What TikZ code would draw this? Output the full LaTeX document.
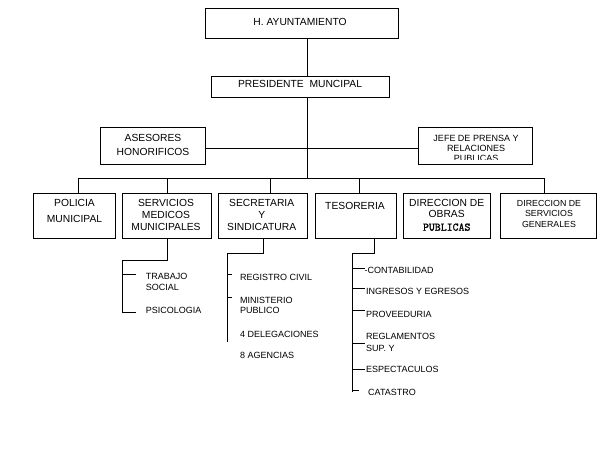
\documentclass[tikz,border=0pt]{standalone}
\usepackage{fontspec}
\setmainfont{Liberation Sans}
\newfontfamily\monof{Latin Modern Mono}[FakeBold=1.4]
\begin{document}
\begin{tikzpicture}[x=1pt,y=-1pt,
  box/.style={draw, line width=0.9pt, inner sep=0pt, rectangle},
  title/.style={inner sep=0pt, align=center, font=\fontsize{10.3}{11.7}\selectfont},
  item/.style={inner sep=0pt, anchor=west, align=left, font=\fontsize{9}{10.5}\selectfont},
  conn/.style={line width=0.9pt}]
\fill[white] (0,0) rectangle (609,454);
\useasboundingbox (0,0) rectangle (609,454);

% top boxes
\node[box, minimum width=193pt, minimum height=30pt] (H) at (301.5,23.3) {};
\node[title] (Ht) at (300,21.5) {H. AYUNTAMIENTO};
\node[box, minimum width=177.6pt, minimum height=21.3pt] (P) at (300.5,86.7) {};
\node[title] (Pt) at (300,84.3) {PRESIDENTE\ \ MUNCIPAL};
\node[box, minimum width=104.3pt, minimum height=37pt] (A) at (152.8,145.8) {};
\node[title, font=\fontsize{10.3}{14}\selectfont] (At) at (153,144.7) {ASESORES\\HONORIFICOS};
\node[box, minimum width=114pt, minimum height=37pt] (J) at (475,145.8) {};
\begin{scope}
  \clip (418,127) rectangle (532,159.3);
  \node[title, font=\fontsize{9}{10}\selectfont] (Jt) at (476,148.5) {JEFE DE PRENSA Y\\RELACIONES\\PUBLICAS};
\end{scope}

% row of departments
\node[box, minimum width=81.7pt, minimum height=45pt] (POL) at (74.2,215.8) {};
\node[title, font=\fontsize{10.3}{15.7}\selectfont] (POLt) at (74.5,211.2) {POLICIA\\MUNICIPAL};
\node[box, minimum width=88.3pt, minimum height=45pt] (SER) at (166.8,215.8) {};
\node[title] (SERt) at (166,215) {SERVICIOS\\MEDICOS\\MUNICIPALES};
\node[box, minimum width=89pt, minimum height=45pt] (SEC) at (262.8,215.8) {};
\node[title, font=\fontsize{10.3}{12}\selectfont] (SECt) at (261.7,215.3) {SECRETARIA\\Y\\SINDICATURA};
\node[box, minimum width=81pt, minimum height=45pt] (TES) at (356.2,215.8) {};
\node[title] (TESt) at (355,206) {TESORERIA};
\node[box, minimum width=86.7pt, minimum height=45pt] (OBR) at (446.7,215.8) {};
\node[title, font=\fontsize{10.3}{11}\selectfont] (OBRt) at (446.7,215) {DIRECCION DE\\OBRAS\\[2.3pt]{\monof\fontsize{11.5}{11}\selectfont PUBLICAS}};
\node[box, minimum width=96.7pt, minimum height=45pt] (DSG) at (548.3,215.8) {};
\node[title, font=\fontsize{8.8}{10.5}\selectfont] (DSGt) at (549,213.5) {DIRECCION DE\\SERVICIOS\\GENERALES};

% main connectors
\coordinate (mx) at (307.5,0);
\coordinate (ay) at (0,148.7);
\coordinate (bus) at (0,178.3);
\draw[conn] (H.south -| mx) -- (P.north -| mx);
\draw[conn] (P.south -| mx) -- (bus -| mx);
\draw[conn] (A.east |- ay) -- (J.west |- ay);
\coordinate (b1) at (78.3,178.3);
\coordinate (b2) at (167.3,178.3);
\coordinate (b3) at (270.7,178.3);
\coordinate (b4) at (359.3,178.3);
\coordinate (b5) at (544.5,178.3);
\draw[conn] (b1) -- (b5);
\draw[conn] (b1) -- (b1 |- POL.north);
\draw[conn] (b2) -- (b2 |- SER.north);
\draw[conn] (b3) -- (b3 |- SEC.north);
\draw[conn] (b4) -- (b4 |- TES.north);
\draw[conn] (b5) -- (b5 |- DSG.north);

% servicios medicos branch
\node[item] (TRA) at (145.7,281.8) {TRABAJO\\SOCIAL};
\node[item] (PSI) at (145.7,310) {PSICOLOGIA};
\coordinate (s1) at (167.3,260);
\coordinate (s2) at (122.5,260);
\coordinate (s3) at (122.5,312.3);
\coordinate (s4) at (0,274.3);
\draw[conn] (s1 |- SER.south) -- (s1) -- (s2) -- (s3) -- ([xshift=-10pt]PSI.west |- s3);
\draw[conn] (s2 |- s4) -- ([xshift=-10pt]TRA.west |- s4);

% secretaria branch
\node[item] (REG) at (240,277) {REGISTRO CIVIL};
\node[item] (MIN) at (240,305.5) {MINISTERIO\\PUBLICO};
\node[item] (DEL) at (240,334) {4 DELEGACIONES};
\node[item] (AGE) at (240,355.5) {8 AGENCIAS};
\coordinate (c1) at (263.5,253.3);
\coordinate (c2) at (227.3,253.3);
\coordinate (c3) at (227.3,341.7);
\coordinate (c4) at (0,274.3);
\coordinate (c5) at (0,297);
\draw[conn] (c1 |- SEC.south) -- (c1) -- (c2) -- (c3);
\draw[conn] (c2 |- c4) -- ([xshift=-7.7pt]REG.west |- c4);
\draw[conn] (c2 |- c5) -- ([xshift=-7.7pt]MIN.west |- c5);

% tesoreria branch
\node[item] (CON) at (364.5,270.5) {-CONTABILIDAD};
\node[item] (ING) at (366,291) {INGRESOS Y EGRESOS};
\node[item] (PRO) at (366,314) {PROVEEDURIA};
\node[item, font=\fontsize{9}{12}\selectfont] (RGL) at (366,342) {REGLAMENTOS\\SUP. Y};
\node[item] (ESP) at (366,369.3) {ESPECTACULOS};
\node[item] (CAT) at (368,392) {CATASTRO};
\coordinate (t1) at (374,253.3);
\coordinate (t2) at (352.3,253.3);
\coordinate (t3) at (352.3,392);
\draw[conn] (t1 |- TES.south) -- (t1) -- (t2) -- (t3);
\coordinate (ty1) at (0,268.3);
\coordinate (ty2) at (0,288.3);
\coordinate (ty3) at (0,310.7);
\coordinate (ty4) at (0,343.3);
\coordinate (ty5) at (0,369.5);
\coordinate (ty6) at (0,390);
\draw[conn] (t2 |- ty1) -- (CON.west |- ty1);
\draw[conn] (t2 |- ty2) -- ([xshift=-1.5pt]ING.west |- ty2);
\draw[conn] (t2 |- ty3) -- ([xshift=-1.5pt]PRO.west |- ty3);
\draw[conn] (t2 |- ty4) -- ([xshift=-1.5pt]RGL.west |- ty4);
\draw[conn] (t2 |- ty5) -- ([xshift=-1.5pt]ESP.west |- ty5);
\draw[conn] (t2 |- ty6) -- ([xshift=-9pt]CAT.west |- ty6);
\end{tikzpicture}
\end{document}
